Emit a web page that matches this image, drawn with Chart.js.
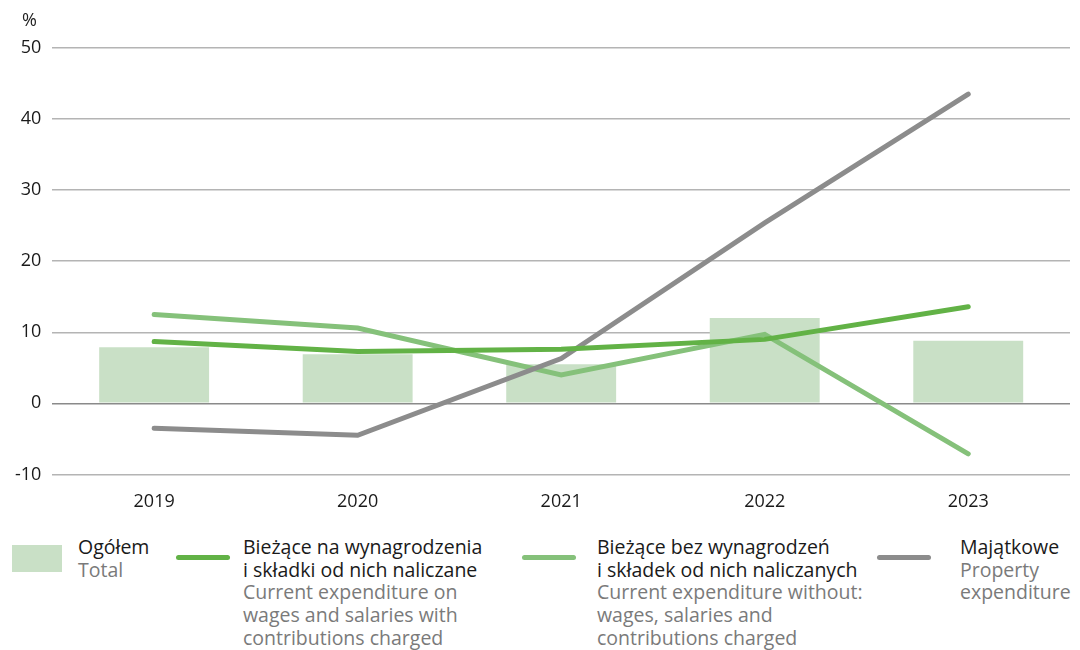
<!DOCTYPE html>
<html>
<head>
<meta charset="utf-8">
<script src="https://cdn.jsdelivr.net/npm/chart.js@4"></script>
<style>
  body { margin: 0; background: #fff; font-family: "Open Sans", sans-serif; }
  #wrap { position: relative; width: 1080px; height: 650px; }
  #chartBox { position: absolute; left: 0; top: 0; width: 1080px; height: 522px; }
  #pct { position: absolute; left: 22px; top: 7px; font-size: 18px; color: #222; }
  .leg { position: absolute; top: 536px; font-size: 19.5px; line-height: 22.7px; color: #1a1a1a; }
  .leg .en { color: #7a7a7a; }
  .sw { position: absolute; }
</style>
</head>
<body>
<div id="wrap">
  <div id="chartBox"><canvas id="grafica"></canvas></div>
  <div id="pct">%</div>

  <div class="sw" style="left:12px; top:545px; width:50px; height:27px; background:#c9e0c6"></div>
  <div class="leg" style="left:78px">Ogółem<br><span class="en">Total</span></div>

  <div class="sw" style="left:176px; top:555px; width:54px; height:5px; border-radius:3px; background:#62b246"></div>
  <div class="leg" style="left:243px">Bieżące na wynagrodzenia<br>i składki od nich naliczane<br><span class="en">Current expenditure on<br>wages and salaries with<br>contributions charged</span></div>

  <div class="sw" style="left:522px; top:555px; width:54px; height:5px; border-radius:3px; background:#85c17a"></div>
  <div class="leg" style="left:597px">Bieżące bez wynagrodzeń<br>i składek od nich naliczanych<br><span class="en">Current expenditure without:<br>wages, salaries and<br>contributions charged</span></div>

  <div class="sw" style="left:877px; top:555px; width:54px; height:5px; border-radius:3px; background:#8c8c8c"></div>
  <div class="leg" style="left:960px">Majątkowe<br><span class="en">Property<br>expenditure</span></div>
</div>

<script>
const LATA = ["2019", "2020", "2021", "2022", "2023"];
const OGOLEM = [7.9, 6.9, 5.5, 12.0, 8.8];
const WYNAGRODZENIA = [8.7, 7.3, 7.6, 9.0, 13.6];
const BEZ_WYNAGRODZEN = [12.5, 10.6, 4.0, 9.7, -7.1];
const MAJATKOWE = [-3.5, -4.5, 6.3, 25.4, 43.5];
const Y_MIN = -10, Y_MAX = 50, Y_STEP = 10;

const ctx = document.getElementById("grafica");

new Chart(ctx, {
  data: {
    labels: LATA,
    datasets: [
      {
        type: "line",
        label: "Majątkowe",
        data: MAJATKOWE,
        borderColor: "#8c8c8c",
        borderWidth: 5,
        pointRadius: 0,
        tension: 0,
        borderCapStyle: "round",
        order: 1
      },
      {
        type: "line",
        label: "Bieżące bez wynagrodzeń",
        data: BEZ_WYNAGRODZEN,
        borderColor: "#85c17a",
        borderWidth: 5,
        pointRadius: 0,
        tension: 0,
        borderCapStyle: "round",
        order: 2
      },
      {
        type: "line",
        label: "Bieżące na wynagrodzenia",
        data: WYNAGRODZENIA,
        borderColor: "#62b246",
        borderWidth: 5,
        pointRadius: 0,
        tension: 0,
        borderCapStyle: "round",
        order: 0
      },
      {
        type: "bar",
        label: "Ogółem",
        data: OGOLEM,
        backgroundColor: "#c9e0c6",
        barPercentage: 0.54,
        categoryPercentage: 1,
        order: 5
      }
    ]
  },
  options: {
    responsive: true,
    maintainAspectRatio: false,
    animation: false,
    layout: { padding: { top: 48, right: 10, left: 4, bottom: 0 } },
    plugins: {
      legend: { display: false },
      tooltip: { enabled: false }
    },
    scales: {
      x: {
        offset: true,
        grid: { display: false },
        border: { display: false },
        ticks: { color: "#1a1a1a", font: { family: "Open Sans", size: 18 }, padding: 9 }
      },
      y: {
        min: Y_MIN,
        max: Y_MAX,
        ticks: {
          stepSize: Y_STEP,
          color: "#1a1a1a",
          font: { family: "Open Sans", size: 18 },
          padding: 11
        },
        border: { display: false },
        grid: {
          drawTicks: false,
          lineWidth: 1.5,
          color: c => c.tick && c.tick.value === 0 ? "#8a8a8a" : "#b4b4b4"
        }
      }
    }
  }
});
</script>
</body>
</html>
